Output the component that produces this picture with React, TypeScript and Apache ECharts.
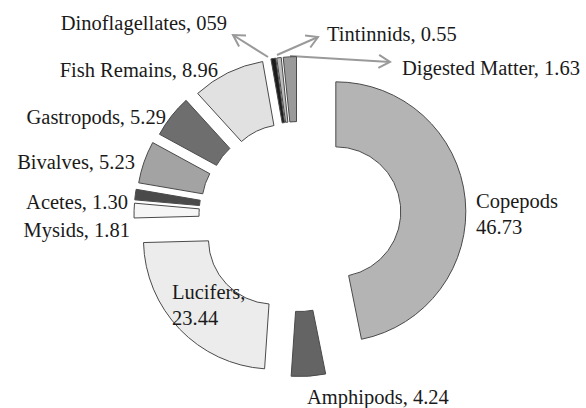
import React, { useEffect, useRef } from "react";
import * as echarts from "echarts";

const CATEGORIES = [
  "Copepods",
  "Amphipods",
  "Lucifers",
  "Mysids",
  "Acetes",
  "Bivalves",
  "Gastropods",
  "Fish Remains",
  "Dinoflagellates",
  "Tintinnids",
  "Digested Matter",
];
const VALUES = [46.73, 4.24, 23.44, 1.81, 1.3, 5.23, 5.29, 8.96, 0.59, 0.55, 1.63];
// value text exactly as printed on the chart
const VALUE_TEXT = ["46.73", "4.24", "23.44", "1.81", "1.30", "5.23", "5.29", "8.96", "059", "0.55", "1.63"];
const SEPARATORS = ["\n", ", ", ",\n", ", ", ", ", ", ", ", ", ", ", ", ", ", ", ", "];

const COLORS = [
  "#b4b4b4",
  "#646464",
  "#ececec",
  "#f6f6f6",
  "#4a4a4a",
  "#a3a3a3",
  "#6e6e6e",
  "#e1e1e1",
  "#1c1c1c",
  "#bdbdbd",
  "#9a9a9a",
];
const OFFSETS = [38, 31, 34, 34, 34, 33, 31, 29, 29, 29, 29];
// label anchor [x, y, align]
const LABEL_POS: [number, number, string][] = [
  [476, 214, "left"],
  [307, 397, "left"],
  [172, 305, "left"],
  [130, 229.5, "right"],
  [128, 201.5, "right"],
  [135, 162, "right"],
  [166, 117, "right"],
  [218, 70, "right"],
  [227, 23, "right"],
  [327, 34, "left"],
  [580, 68, "right"],
];
// annotation arrows [fromX, fromY, tipX, tipY]
const ARROWS = [
  [268, 57, 233, 35],
  [277, 55, 318, 37],
  [290, 56, 390, 62],
];

const FONT = "'Liberation Serif', 'Times New Roman', serif";
const CENTER = [298, 215.6];
const RADIUS = [65, 130];

export default function App() {
  const ref = useRef<HTMLDivElement>(null);
  useEffect(() => {
    if (!ref.current) return;
    const chart = echarts.init(ref.current, undefined, { renderer: "svg" });

    const base = {
      type: "pie",
      center: CENTER,
      radius: RADIUS,
      startAngle: 90,
      clockwise: true,
      avoidLabelOverlap: false,
      silent: true,
      emphasis: { disabled: true },
      labelLine: { show: false },
    };

    // one exploded slice per series so each slice can have its own offset
    const sliceSeries = CATEGORIES.map((_, i) => ({
      ...base,
      selectedMode: "single",
      selectedOffset: OFFSETS[i],
      label: { show: false },
      data: CATEGORIES.map((name, j) => ({
        name,
        value: VALUES[j],
        selected: j === i,
        itemStyle:
          j === i
            ? { color: COLORS[j], borderColor: "#4a4a4a", borderWidth: 1 }
            : { color: "rgba(0,0,0,0)", borderWidth: 0, opacity: 0 },
      })),
    }));

    // label carrier series (not exploded, invisible sectors)
    const labelSeries = {
      ...base,
      selectedMode: false,
      itemStyle: { color: "rgba(255,255,255,0)", borderWidth: 0 },
      label: {
        show: true,
        formatter: (p: any) =>
          CATEGORIES[p.dataIndex] + SEPARATORS[p.dataIndex] + VALUE_TEXT[p.dataIndex],
        fontFamily: FONT,
        fontSize: 20.5,
        lineHeight: 26,
        color: "#1a1a1a",
      },
      labelLayout: (p: any) => ({
        x: LABEL_POS[p.dataIndex][0],
        y: LABEL_POS[p.dataIndex][1],
        align: LABEL_POS[p.dataIndex][2],
        verticalAlign: "middle",
      }),
      data: CATEGORIES.map((name, j) => ({ name, value: VALUES[j] })),
    };

    const graphics: any[] = [];
    ARROWS.forEach(([x1, y1, x2, y2]) => {
      graphics.push({
        type: "line",
        shape: { x1, y1, x2, y2 },
        style: { stroke: "#9a9a9a", lineWidth: 2 },
      });
      const ang = Math.atan2(y2 - y1, x2 - x1);
      const len = 13;
      const spread = Math.PI / 6;
      const a1 = ang + Math.PI - spread;
      const a2 = ang + Math.PI + spread;
      graphics.push({
        type: "polyline",
        shape: {
          points: [
            [x2 + len * Math.cos(a1), y2 + len * Math.sin(a1)],
            [x2, y2],
            [x2 + len * Math.cos(a2), y2 + len * Math.sin(a2)],
          ],
        },
        style: { stroke: "#9a9a9a", lineWidth: 2, fill: "none" },
      });
    });

    chart.setOption({
      animation: false,
      backgroundColor: "#ffffff",
      series: [...sliceSeries, labelSeries],
      graphic: graphics,
    } as any);

    return () => chart.dispose();
  }, []);

  return (
    <div
      ref={ref}
      style={{ position: "fixed", left: 0, top: 0, width: 586, height: 408 }}
    />
  );
}
